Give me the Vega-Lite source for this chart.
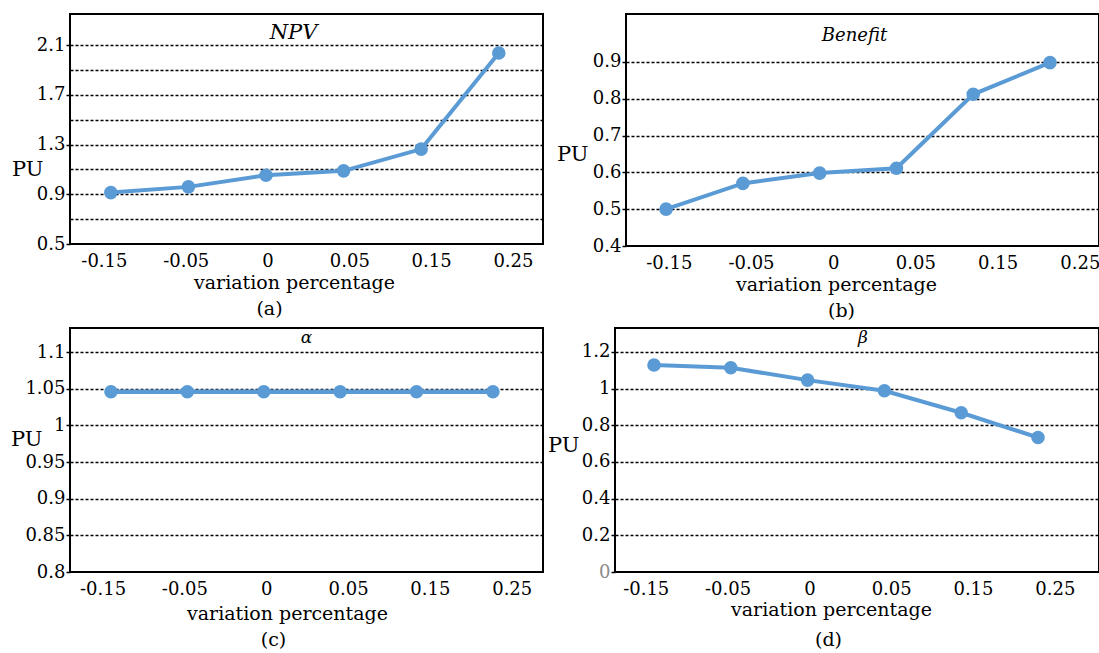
{
  "$schema": "https://vega.github.io/schema/vega-lite/v6.json",
  "background": "white",
  "padding": {"left": 9, "top": 13, "right": 0, "bottom": 0},
  "spacing": 6,
  "vconcat": [
    {
      "hconcat": [
        {
          "width": 473, "height": 230,
          "title": {"text": "NPV", "fontSize": 21, "offset": -29, "dx": -13},
          "data": {"values": [
            {"x": "-0.15", "PU": 0.914}, {"x": "-0.05", "PU": 0.960}, {"x": "0", "PU": 1.054},
            {"x": "0.05", "PU": 1.089}, {"x": "0.15", "PU": 1.264}, {"x": "0.25", "PU": 2.038}
          ]},
          "encoding": {"y": {"field": "PU", "type": "quantitative",
            "scale": {"domain": [0.5, 2.352], "nice": false, "zero": false},
            "axis": {"values": [0.5, 0.7, 0.9, 1.1, 1.3, 1.5, 1.7, 1.9, 2.1],
              "labelExpr": "indexof([0.5,0.9,1.3,1.7,2.1], datum.value) >= 0 ? format(datum.value, '~g') : ''",
              "gridOpacity": {"condition": {"test": "datum.value == 0.5", "value": 0}, "value": 1},
              "tickOpacity": {"condition": {"test": "indexof([0.5,0.9,1.3,1.7,2.1], datum.value) >= 0", "value": 1}, "value": 0},
              "title": "PU", "titleX": -27, "titleY": 155}}},
          "layer": [
            {
              "encoding": {"x": {"field": "x", "type": "ordinal", "sort": null,
                "scale": {"type": "point", "padding": 0.548, "align": 0.48},
                "axis": {"orient": "bottom", "labels": false, "ticks": false, "domain": false, "grid": false,
                  "title": "(a)", "titleX": 199, "titleY": 70, "titleBaseline": "alphabetic", "titleAlign": "center"}}},
              "layer": [
                {"mark": {"type": "line", "color": "#5B9BD5", "strokeWidth": 4}},
                {"mark": {"type": "point", "filled": true, "size": 185, "color": "#5B9BD5", "opacity": 1, "strokeWidth": 0}}
              ]
            },
            {
              "mark": {"type": "point", "opacity": 0},
              "encoding": {"x": {"field": "x", "type": "ordinal", "sort": null,
                "scale": {"type": "point", "padding": 0.391, "align": 0.53},
                "axis": {"orient": "bottom", "labelAngle": 0, "ticks": false, "domain": false, "grid": false, "labelPadding": 8,
                  "title": "variation percentage", "titleX": 224, "titleY": 44, "titleBaseline": "alphabetic", "titleAlign": "center"}}}
            }
          ],
          "resolve": {"scale": {"x": "independent"}, "axis": {"x": "independent"}}
        },
        {
          "width": 473, "height": 232,
          "title": {"text": "Benefit", "fontSize": 18, "offset": -31, "dx": -8},
          "data": {"values": [
            {"x": "-0.15", "PU": 0.500}, {"x": "-0.05", "PU": 0.570}, {"x": "0", "PU": 0.598},
            {"x": "0.05", "PU": 0.611}, {"x": "0.15", "PU": 0.812}, {"x": "0.25", "PU": 0.898}
          ]},
          "encoding": {"y": {"field": "PU", "type": "quantitative",
            "scale": {"domain": [0.4, 1.03], "nice": false, "zero": false},
            "axis": {"values": [0.4, 0.5, 0.6, 0.7, 0.8, 0.9], "format": "~g",
              "gridOpacity": {"condition": {"test": "datum.value == 0.4", "value": 0}, "value": 1},
              "title": "PU", "titleX": -38, "titleY": 140}}},
          "layer": [
            {
              "encoding": {"x": {"field": "x", "type": "ordinal", "sort": null,
                "scale": {"type": "point", "padding": 0.58, "align": 0.45},
                "axis": {"orient": "bottom", "labels": false, "ticks": false, "domain": false, "grid": false,
                  "title": "(b)", "titleX": 215, "titleY": 70, "titleBaseline": "alphabetic", "titleAlign": "center"}}},
              "layer": [
                {"mark": {"type": "line", "color": "#5B9BD5", "strokeWidth": 4}},
                {"mark": {"type": "point", "filled": true, "size": 185, "color": "#5B9BD5", "opacity": 1, "strokeWidth": 0}}
              ]
            },
            {
              "mark": {"type": "point", "opacity": 0},
              "encoding": {"x": {"field": "x", "type": "ordinal", "sort": null,
                "scale": {"type": "point", "padding": 0.377, "align": 0.69},
                "axis": {"orient": "bottom", "labelAngle": 0, "ticks": false, "domain": false, "grid": false, "labelPadding": 8,
                  "title": "variation percentage", "titleX": 210, "titleY": 44, "titleBaseline": "alphabetic", "titleAlign": "center"}}}
            }
          ],
          "resolve": {"scale": {"x": "independent"}, "axis": {"x": "independent"}}
        }
      ],
      "spacing": 83,
      "bounds": "flush"
    },
    {
      "hconcat": [
        {
          "width": 473, "height": 244,
          "title": {"text": "α", "fontSize": 17, "offset": -19, "dx": 0},
          "data": {"values": [
            {"x": "-0.15", "PU": 1.046}, {"x": "-0.05", "PU": 1.046}, {"x": "0", "PU": 1.046},
            {"x": "0.05", "PU": 1.046}, {"x": "0.15", "PU": 1.046}, {"x": "0.25", "PU": 1.046}
          ]},
          "encoding": {"y": {"field": "PU", "type": "quantitative",
            "scale": {"domain": [0.8, 1.133], "nice": false, "zero": false},
            "axis": {"values": [0.8, 0.85, 0.9, 0.95, 1, 1.05, 1.1], "format": "~g",
              "gridOpacity": {"condition": {"test": "datum.value == 0.8", "value": 0}, "value": 1},
              "title": "PU", "titleX": -28, "titleY": 111}}},
          "layer": [
            {
              "encoding": {"x": {"field": "x", "type": "ordinal", "sort": null,
                "scale": {"type": "point", "padding": 0.596, "align": 0.45},
                "axis": {"orient": "bottom", "labels": false, "ticks": false, "domain": false, "grid": false,
                  "title": "(c)", "titleX": 203, "titleY": 73, "titleBaseline": "alphabetic", "titleAlign": "center"}}},
              "layer": [
                {"mark": {"type": "line", "color": "#5B9BD5", "strokeWidth": 4.5}},
                {"mark": {"type": "point", "filled": true, "size": 185, "color": "#5B9BD5", "opacity": 1, "strokeWidth": 0}}
              ]
            },
            {
              "mark": {"type": "point", "opacity": 0},
              "encoding": {"x": {"field": "x", "type": "ordinal", "sort": null,
                "scale": {"type": "point", "padding": 0.39, "align": 0.51},
                "axis": {"orient": "bottom", "labelAngle": 0, "ticks": false, "domain": false, "grid": false, "labelPadding": 8,
                  "title": "variation percentage", "titleX": 217, "titleY": 47, "titleBaseline": "alphabetic", "titleAlign": "center"}}}
            }
          ],
          "resolve": {"scale": {"x": "independent"}, "axis": {"x": "independent"}}
        },
        {
          "width": 484, "height": 244,
          "title": {"text": "β", "fontSize": 17, "offset": -19, "dx": 6},
          "data": {"values": [
            {"x": "-0.15", "PU": 1.128}, {"x": "-0.05", "PU": 1.113}, {"x": "0", "PU": 1.046},
            {"x": "0.05", "PU": 0.988}, {"x": "0.15", "PU": 0.868}, {"x": "0.25", "PU": 0.733}
          ]},
          "encoding": {"y": {"field": "PU", "type": "quantitative",
            "scale": {"domain": [0, 1.33], "nice": false, "zero": false},
            "axis": {"values": [0, 0.2, 0.4, 0.6, 0.8, 1, 1.2], "format": "~g",
              "gridOpacity": {"condition": {"test": "datum.value == 0", "value": 0}, "value": 1},
              "labelColor": {"condition": {"test": "datum.value == 0", "value": "#8c8c8c"}, "value": "black"},
              "title": "PU", "titleX": -36, "titleY": 117}}},
          "layer": [
            {
              "encoding": {"x": {"field": "x", "type": "ordinal", "sort": null,
                "scale": {"type": "point", "padding": 0.651, "align": 0.39},
                "axis": {"orient": "bottom", "labels": false, "ticks": false, "domain": false, "grid": false,
                  "title": "(d)", "titleX": 213, "titleY": 73, "titleBaseline": "alphabetic", "titleAlign": "center"}}},
              "layer": [
                {"mark": {"type": "line", "color": "#5B9BD5", "strokeWidth": 4}},
                {"mark": {"type": "point", "filled": true, "size": 185, "color": "#5B9BD5", "opacity": 1, "strokeWidth": 0}}
              ]
            },
            {
              "mark": {"type": "point", "opacity": 0},
              "encoding": {"x": {"field": "x", "type": "ordinal", "sort": null,
                "scale": {"type": "point", "padding": 0.458, "align": 0.41},
                "axis": {"orient": "bottom", "labelAngle": 0, "ticks": false, "domain": false, "grid": false, "labelPadding": 8,
                  "title": "variation percentage", "titleX": 216, "titleY": 43, "titleBaseline": "alphabetic", "titleAlign": "center"}}}
            }
          ],
          "resolve": {"scale": {"x": "independent"}, "axis": {"x": "independent"}}
        }
      ],
      "spacing": 72,
      "bounds": "flush"
    }
  ],
  "config": {
    "view": {"stroke": "black", "strokeWidth": 2},
    "font": "DejaVu Serif",
    "axis": {"labelFont": "DejaVu Serif", "labelFontSize": 18, "labelColor": "black",
      "titleFont": "DejaVu Serif", "titleFontSize": 19, "titleFontWeight": "normal", "titleColor": "black",
      "tickColor": "black", "tickSize": 4, "tickWidth": 1.5, "domain": false},
    "axisY": {"grid": true, "gridColor": "black", "gridDash": [3, 2], "gridWidth": 1.7,
      "labelPadding": 1, "titleAngle": 0, "titleAlign": "right", "titleBaseline": "middle", "titleFontSize": 21},
    "axisX": {"grid": false},
    "title": {"font": "DejaVu Serif", "fontStyle": "italic", "fontWeight": "normal", "color": "black",
      "frame": "group", "baseline": "alphabetic", "anchor": "middle"}
  }
}
